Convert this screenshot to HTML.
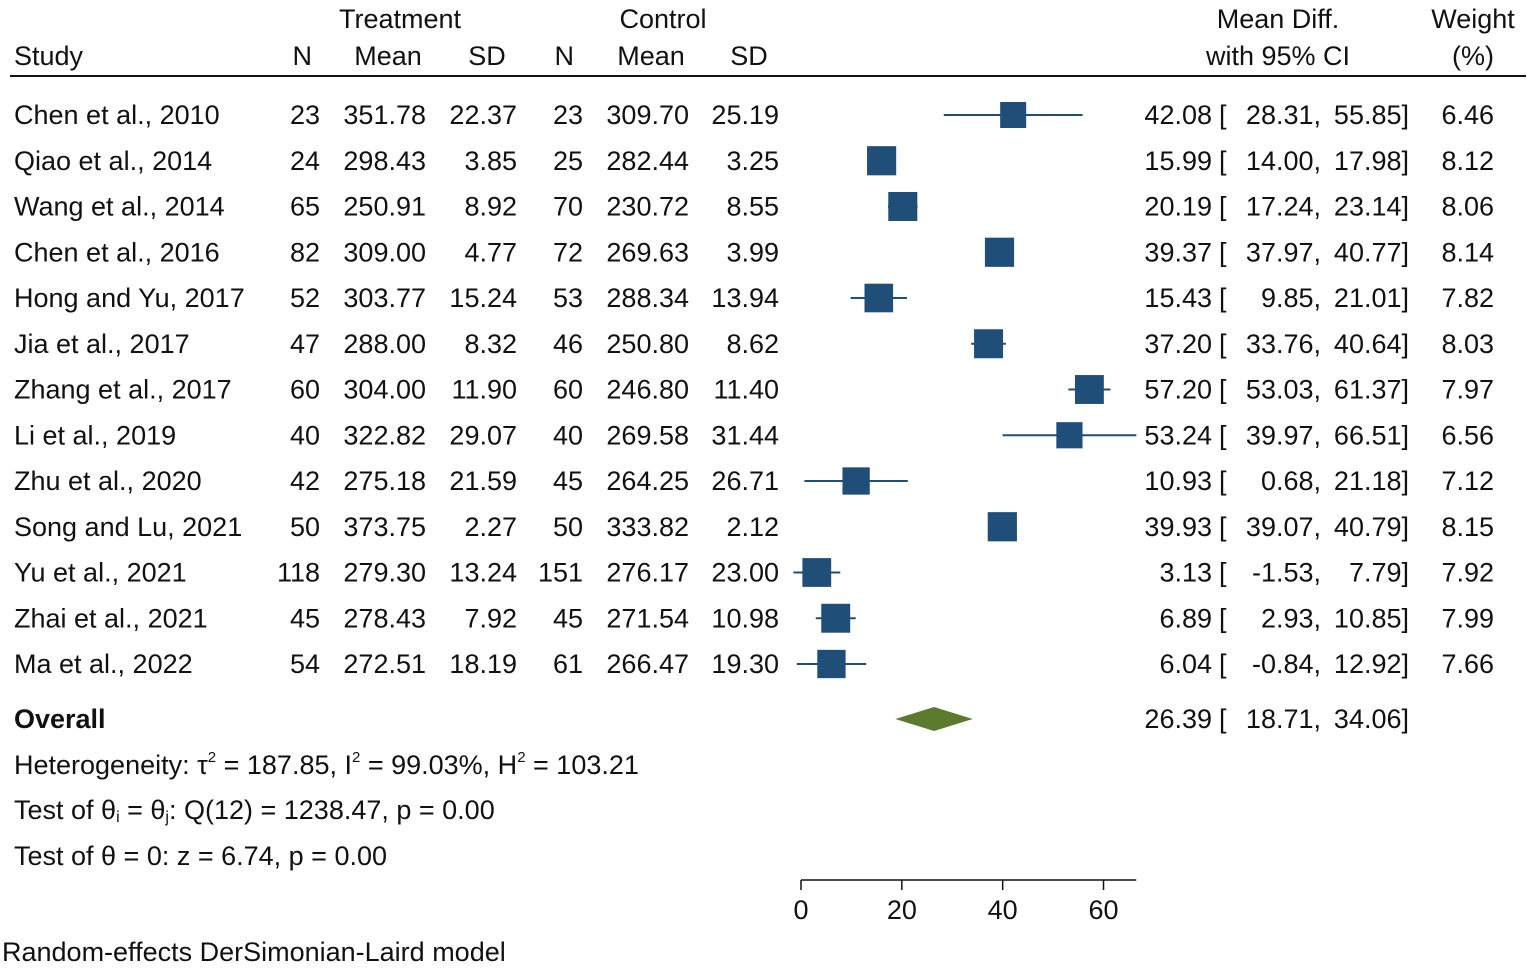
<!DOCTYPE html>
<html><head><meta charset="utf-8"><style>
html,body{margin:0;padding:0;background:#fff;}
svg{display:block;font-family:"Liberation Sans",Arial,sans-serif;}
text{fill:#111;font-size:27px;}
</style></head><body>
<svg id="chart" width="1535" height="972" viewBox="0 0 1535 972" xmlns="http://www.w3.org/2000/svg">
<g id="hdr">
<text x="400" y="28" text-anchor="middle">Treatment</text>
<text x="663" y="28" text-anchor="middle">Control</text>
<text x="1278" y="28" text-anchor="middle">Mean Diff.</text>
<text x="1473" y="28" text-anchor="middle">Weight</text>
<text x="14" y="65">Study</text>
<text x="312" y="65" text-anchor="end">N</text>
<text x="388" y="65" text-anchor="middle">Mean</text>
<text x="487" y="65" text-anchor="middle">SD</text>
<text x="574" y="65" text-anchor="end">N</text>
<text x="651" y="65" text-anchor="middle">Mean</text>
<text x="749" y="65" text-anchor="middle">SD</text>
<text x="1278" y="65" text-anchor="middle">with 95% CI</text>
<text x="1473" y="65" text-anchor="middle">(%)</text>
<line x1="10" y1="76" x2="1526" y2="76" stroke="#111" stroke-width="2"/>
</g>
<g id="rows"></g>
<g id="axis"></g>
<g>
<text x="14" y="728" font-weight="bold">Overall</text>
<text x="14" y="774">Heterogeneity: τ<tspan font-size="15" dy="-12">2</tspan><tspan dy="12"> = 187.85, I</tspan><tspan font-size="15" dy="-12">2</tspan><tspan dy="12"> = 99.03%, H</tspan><tspan font-size="15" dy="-12">2</tspan><tspan dy="12"> = 103.21</tspan></text>
<text x="14" y="819">Test of θ<tspan font-size="16" dy="3">i</tspan><tspan dy="-3"> = θ</tspan><tspan font-size="16" dy="3">j</tspan><tspan dy="-3">: Q(12) = 1238.47, p = 0.00</tspan></text>
<text x="14" y="865">Test of θ = 0: z = 6.74, p = 0.00</text>
<text x="2" y="961">Random-effects DerSimonian-Laird model</text>
</g>
<script>
const studies=["Chen et al., 2010","Qiao et al., 2014","Wang et al., 2014","Chen et al., 2016","Hong and Yu, 2017","Jia et al., 2017","Zhang et al., 2017","Li et al., 2019","Zhu et al., 2020","Song and Lu, 2021","Yu et al., 2021","Zhai et al., 2021","Ma et al., 2022"];
const tN=[23,24,65,82,52,47,60,40,42,50,118,45,54];
const tMean=["351.78","298.43","250.91","309.00","303.77","288.00","304.00","322.82","275.18","373.75","279.30","278.43","272.51"];
const tSD=["22.37","3.85","8.92","4.77","15.24","8.32","11.90","29.07","21.59","2.27","13.24","7.92","18.19"];
const cN=[23,25,70,72,53,46,60,40,45,50,151,45,61];
const cMean=["309.70","282.44","230.72","269.63","288.34","250.80","246.80","269.58","264.25","333.82","276.17","271.54","266.47"];
const cSD=["25.19","3.25","8.55","3.99","13.94","8.62","11.40","31.44","26.71","2.12","23.00","10.98","19.30"];
const md=[42.08,15.99,20.19,39.37,15.43,37.20,57.20,53.24,10.93,39.93,3.13,6.89,6.04];
const lo=[28.31,14.00,17.24,37.97,9.85,33.76,53.03,39.97,0.68,39.07,-1.53,2.93,-0.84];
const hi=[55.85,17.98,23.14,40.77,21.01,40.64,61.37,66.51,21.18,40.79,7.79,10.85,12.92];
const weight=[6.46,8.12,8.06,8.14,7.82,8.03,7.97,6.56,7.12,8.15,7.92,7.99,7.66];
const overall=[26.39,18.71,34.06];
const ticks=[0,20,40,60];
const NS="http://www.w3.org/2000/svg";
const xs=v=>801+v*5.042;
const ys=i=>115+i*45.75;
function mk(tag,attrs,parent,txt){const e=document.createElementNS(NS,tag);for(const k in attrs)e.setAttribute(k,attrs[k]);if(txt!==undefined)e.textContent=txt;parent.appendChild(e);return e;}
function ci(g,b,m,l,h){
 mk('text',{x:1212,y:b,'text-anchor':'end'},g,m.toFixed(2));
 mk('text',{x:1219,y:b},g,'[');
 mk('text',{x:1321,y:b,'text-anchor':'end'},g,l.toFixed(2)+',');
 mk('text',{x:1409,y:b,'text-anchor':'end'},g,h.toFixed(2)+']');
}
const rows=document.getElementById('rows');
studies.forEach((s,i)=>{
 const g=mk('g',{},rows);
 
 
 const y=ys(i),b=y+9;
 mk('text',{x:14,y:b},g,s);
 mk('text',{x:320,y:b,'text-anchor':'end'},g,tN[i]);
 mk('text',{x:426,y:b,'text-anchor':'end'},g,tMean[i]);
 mk('text',{x:517,y:b,'text-anchor':'end'},g,tSD[i]);
 mk('text',{x:583,y:b,'text-anchor':'end'},g,cN[i]);
 mk('text',{x:689,y:b,'text-anchor':'end'},g,cMean[i]);
 mk('text',{x:779,y:b,'text-anchor':'end'},g,cSD[i]);
 ci(g,b,md[i],lo[i],hi[i]);
 mk('text',{x:1494,y:b,'text-anchor':'end'},g,weight[i].toFixed(2));
 const l=mk('line',{x1:xs(lo[i]),x2:xs(hi[i]),y1:y,y2:y,stroke:'#1f4e79','stroke-width':2},g);
 
 
 const sz=10.23*Math.sqrt(weight[i]);
 const r=mk('rect',{x:xs(md[i])-sz/2,y:y-sz/2,width:sz,height:sz,fill:'#1f4e79'},g);
 
 
});
const og=mk('g',{},rows);


const oy=719;
const d=mk('polygon',{points:`${xs(overall[1])},${oy} ${xs(overall[0])},${oy-12} ${xs(overall[2])},${oy} ${xs(overall[0])},${oy+12}`,fill:'#5b7a2e'},og);


ci(og,oy+9,overall[0],overall[1],overall[2]);
const ax=document.getElementById('axis');
mk('line',{x1:xs(0),x2:xs(66.5),y1:880,y2:880,stroke:'#111','stroke-width':1.5},ax);
ticks.forEach(t=>{
 mk('line',{x1:xs(t),x2:xs(t),y1:880,y2:890,stroke:'#111','stroke-width':1.5},ax);
 const tl=mk('text',{x:xs(t),y:919,'text-anchor':'middle'},ax,t);
 
 
});
</script>
</svg>
</body></html>
